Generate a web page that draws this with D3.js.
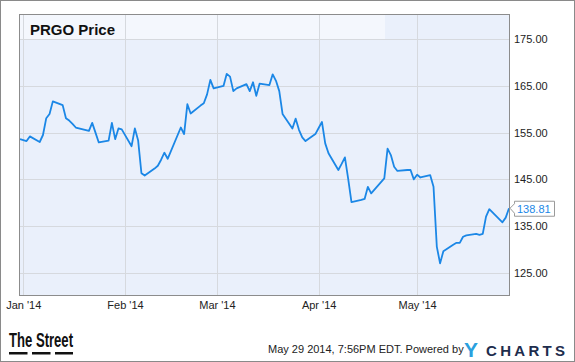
<!DOCTYPE html>
<html>
<head>
<meta charset="utf-8">
<script src="https://cdn.jsdelivr.net/npm/d3@7"></script>
<style>
  html, body { margin: 0; padding: 0; background: #fff; }
  svg { display: block; }
  text { font-family: "Liberation Sans", Arial, sans-serif; }
</style>
</head>
<body>
<div id="chart"></div>
<script>
const title = "PRGO Price";
const dates = [
  "2013-12-31","2014-01-02","2014-01-03","2014-01-06","2014-01-07","2014-01-08","2014-01-09","2014-01-10",
  "2014-01-13","2014-01-14","2014-01-15","2014-01-16","2014-01-17","2014-01-21","2014-01-22","2014-01-23",
  "2014-01-24","2014-01-27","2014-01-28","2014-01-29","2014-01-30","2014-01-31",
  "2014-02-03","2014-02-04","2014-02-05","2014-02-06","2014-02-07","2014-02-10","2014-02-11","2014-02-12",
  "2014-02-13","2014-02-14","2014-02-18","2014-02-19","2014-02-20","2014-02-21","2014-02-24","2014-02-25",
  "2014-02-26","2014-02-27","2014-02-28",
  "2014-03-03","2014-03-04","2014-03-05","2014-03-06","2014-03-07","2014-03-10","2014-03-11","2014-03-12",
  "2014-03-13","2014-03-14","2014-03-17","2014-03-18","2014-03-19","2014-03-20","2014-03-21","2014-03-24",
  "2014-03-25","2014-03-26","2014-03-27","2014-03-28","2014-03-31",
  "2014-04-01","2014-04-02","2014-04-03","2014-04-04","2014-04-07","2014-04-08","2014-04-09","2014-04-10",
  "2014-04-11","2014-04-14","2014-04-15","2014-04-16","2014-04-17","2014-04-21","2014-04-22","2014-04-23",
  "2014-04-24","2014-04-25","2014-04-28","2014-04-29","2014-04-30",
  "2014-05-01","2014-05-02","2014-05-05","2014-05-06","2014-05-07","2014-05-08","2014-05-09","2014-05-12",
  "2014-05-13","2014-05-14","2014-05-15","2014-05-16","2014-05-19","2014-05-20","2014-05-21","2014-05-22",
  "2014-05-23","2014-05-27","2014-05-28","2014-05-29"
];
const prices = [
  153.6,153.2,154.2,153.0,154.5,158.1,159.0,161.7,
  160.9,158.1,157.6,156.9,156.1,155.4,157.1,155.0,
  152.9,153.3,157.1,153.6,155.9,155.7,
  152.1,155.9,153.3,146.3,145.8,147.3,147.9,149.2,
  150.7,149.4,156.1,154.7,161.1,159.1,160.8,161.3,
  163.2,166.3,164.5,
  165.0,167.6,167.0,163.9,164.5,165.4,163.9,165.8,
  162.9,165.5,165.2,167.5,166.1,163.9,159.0,155.9,
  158.0,155.6,154.0,153.2,154.7,
  156.0,157.3,152.7,150.6,147.0,148.3,149.7,145.1,
  140.1,140.6,140.8,143.4,142.0,145.2,151.6,150.2,
  147.7,146.8,147.0,147.0,145.0,
  146.0,145.4,145.9,143.4,130.6,127.0,129.6,131.0,
  131.4,131.4,132.7,133.0,133.3,133.1,133.3,137.0,
  138.6,135.8,136.8,138.81
];
const yTicks = [125, 135, 145, 155, 165, 175];
const xTickDates = ["2014-01-01","2014-02-01","2014-03-01","2014-04-01","2014-05-01"];
const xTickLabels = ["Jan '14","Feb '14","Mar '14","Apr '14","May '14"];
const footerText = "May 29 2014, 7:56PM EDT. Powered by";

const W = 575, H = 362;
const plot = { left: 20, right: 509, top: 15, bottom: 295 };
const parse = d3.timeParse("%Y-%m-%d");
const data = dates.map((d, i) => ({ date: parse(d), value: prices[i] }));

const x = d3.scaleTime()
  .domain([parse("2013-12-31"), parse("2014-05-29")])
  .range([plot.left, plot.right]);
const y = d3.scaleLinear().domain([125, 175]).range([272.7, 39.3]);

const svg = d3.select("#chart").append("svg")
  .attr("width", W).attr("height", H);

svg.append("rect").attr("x", 0).attr("y", 0).attr("width", W).attr("height", H).attr("fill", "#fff");
svg.append("rect").attr("x", 0.5).attr("y", 0.5).attr("width", W - 1).attr("height", H - 1)
  .attr("fill", "none").attr("stroke", "#8a8a8a").attr("stroke-width", 1);

// plot background
svg.append("rect")
  .attr("x", plot.left).attr("y", plot.top)
  .attr("width", plot.right - plot.left).attr("height", plot.bottom - plot.top)
  .attr("fill", "#eaf0fb");
// lighter title band
svg.append("rect")
  .attr("x", plot.left).attr("y", plot.top)
  .attr("width", 365).attr("height", 24)
  .attr("fill", "#f4f7fd");

// gridlines
const g = svg.append("g");
g.selectAll("line.h").data(yTicks).enter().append("line")
  .attr("x1", plot.left).attr("x2", plot.right)
  .attr("y1", d => Math.round(y(d)) + 0.5).attr("y2", d => Math.round(y(d)) + 0.5)
  .attr("stroke", "#d6d9de").attr("stroke-width", 1);
g.selectAll("line.v").data(xTickDates).enter().append("line")
  .attr("x1", d => Math.round(x(parse(d))) + 0.5).attr("x2", d => Math.round(x(parse(d))) + 0.5)
  .attr("y1", plot.top).attr("y2", plot.bottom)
  .attr("stroke", "#d6d9de").attr("stroke-width", 1);

// title
svg.append("text").attr("x", 30).attr("y", 34.5)
  .attr("font-size", 15).attr("font-weight", "bold").attr("fill", "#111")
  .text(title);

// line
const line = d3.line().x(d => x(d.date)).y(d => y(d.value));
svg.append("path").datum(data)
  .attr("d", line).attr("fill", "none")
  .attr("stroke", "#1b87e6").attr("stroke-width", 1.8)
  .attr("stroke-linejoin", "round");

// frame
svg.append("rect")
  .attr("x", plot.left - 0.5).attr("y", plot.top - 0.5)
  .attr("width", plot.right - plot.left + 1).attr("height", plot.bottom - plot.top + 1)
  .attr("fill", "none").attr("stroke", "#8c8c8c").attr("stroke-width", 1);

// y axis labels (right)
const yAxis = d3.axisRight(y).tickValues(yTicks).tickFormat(d3.format(".2f")).tickSize(0).tickPadding(5);
const ya = svg.append("g").attr("transform", `translate(${plot.right},0)`).call(yAxis);
ya.select(".domain").remove();
ya.selectAll("text").attr("font-size", 11).attr("fill", "#222")
  .attr("font-family", "'Liberation Sans', Arial, sans-serif");

// x axis labels
const xAxis = d3.axisBottom(x).tickValues(xTickDates.map(parse))
  .tickFormat((d, i) => xTickLabels[i]).tickSize(0).tickPadding(6);
const xa = svg.append("g").attr("transform", `translate(0,${plot.bottom})`).call(xAxis);
xa.select(".domain").remove();
xa.selectAll("text").attr("font-size", 11).attr("fill", "#222")
  .attr("font-family", "'Liberation Sans', Arial, sans-serif");

// last value label
const last = data[data.length - 1];
const ly = y(last.value);
svg.append("path")
  .attr("d", `M514.5,${ly - 7} L554.5,${ly - 7} L554.5,${ly + 8} L514.5,${ly + 8} L514.5,${ly + 5} L510,${ly} L514.5,${ly - 4.5} Z`)
  .attr("fill", "#fff").attr("stroke", "#9a9a9a").attr("stroke-width", 1);
svg.append("text").attr("x", 517).attr("y", ly + 4.5)
  .attr("font-size", 11).attr("fill", "#1b87e6")
  .text(d3.format(".2f")(last.value));

// footer: The Street logo
svg.append("text").attr("x", 9).attr("y", 347)
  .attr("font-family", "'Liberation Sans Narrow', 'DejaVu Sans Condensed', sans-serif")
  .attr("font-weight", "bold").attr("font-size", 20).attr("fill", "#111")
  .attr("textLength", 64).attr("lengthAdjust", "spacingAndGlyphs")
  .text("The Street");
[[9, 27.5], [32, 50.5], [55, 73]].forEach(([a, b]) => {
  svg.append("rect").attr("x", a).attr("y", 352).attr("width", b - a).attr("height", 2.5).attr("fill", "#111");
});

// footer text
svg.append("text").attr("x", 268).attr("y", 352.5)
  .attr("font-size", 11).attr("fill", "#222").text(footerText);

// YCHARTS logo
svg.append("text").attr("x", 464).attr("y", 357)
  .attr("font-family", "'DejaVu Sans', sans-serif").attr("font-weight", "bold")
  .attr("font-size", 21).attr("fill", "#2aa0de").text("Y");
svg.append("text").attr("x", 486).attr("y", 356)
  .attr("font-family", "'DejaVu Sans', sans-serif").attr("font-weight", "bold")
  .attr("font-size", 15).attr("fill", "#1e2d4d")
  .attr("textLength", 79).attr("lengthAdjust", "spacing")
  .text("CHARTS");
</script>
</body>
</html>
